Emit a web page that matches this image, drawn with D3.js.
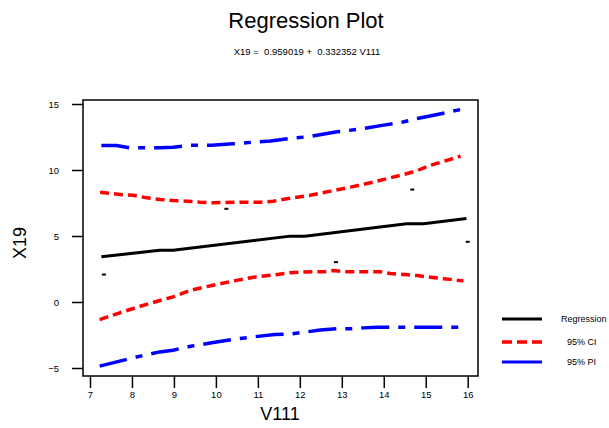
<!DOCTYPE html>
<html>
<head>
<meta charset="utf-8">
<script src="https://cdn.jsdelivr.net/npm/d3@7"></script>
<style>
  body { margin: 0; background: #fff; }
  text { font-family: "Liberation Sans", Arial, sans-serif; }
</style>
</head>
<body>
<div id="chart-area"></div>
<script>
// values
var xTicks = [7, 8, 9, 10, 11, 12, 13, 14, 15, 16];
var yTicks = [-5, 0, 5, 10, 15];

var pointX = [7.33, 10.25, 12.86, 14.68, 16.0];
var pointY = [2.08, 7.06, 3.02, 8.52, 4.56];

var regX = [7.27, 8.66, 8.98, 11.77, 12.12, 14.54, 14.95, 15.97];
var regY = [3.42, 3.92, 3.92, 4.99, 4.99, 5.92, 5.92, 6.33];

var ciUpperX = [7.24, 7.72, 8.03, 8.35, 8.67, 8.99, 9.31, 9.63, 9.94, 10.58, 11.06, 11.37, 11.69, 12.25, 12.73, 13.21, 13.68, 14.16, 14.48, 14.80, 15.11, 15.43, 15.83];
var ciUpperY = [8.32, 8.14, 8.09, 7.89, 7.77, 7.69, 7.64, 7.56, 7.52, 7.56, 7.56, 7.64, 7.82, 8.09, 8.40, 8.70, 9.03, 9.41, 9.66, 9.96, 10.36, 10.65, 11.05];

var ciLowerX = [7.23, 7.71, 8.2, 8.66, 8.98, 9.40, 9.90, 10.40, 10.9, 11.37, 11.77, 12.1, 12.56, 12.8, 13.13, 13.92, 14.16, 14.48, 14.8, 15.11, 15.43, 15.9];
var ciLowerY = [-1.33, -0.82, -0.32, 0.11, 0.39, 0.89, 1.25, 1.58, 1.88, 2.05, 2.22, 2.28, 2.29, 2.38, 2.29, 2.29, 2.16, 2.08, 2.0, 1.88, 1.76, 1.6];

var piUpperX = [7.27, 7.63, 7.95, 8.66, 8.98, 9.40, 9.90, 10.40, 10.9, 11.30, 11.77, 12.25, 12.89, 13.52, 14.0, 14.48, 14.8, 15.19, 15.83];
var piUpperY = [11.86, 11.86, 11.68, 11.68, 11.73, 11.88, 11.88, 11.98, 12.11, 12.2, 12.39, 12.54, 12.89, 13.14, 13.4, 13.65, 13.9, 14.15, 14.58];

var piLowerX = [7.23, 7.71, 8.2, 8.66, 8.98, 9.40, 9.90, 10.40, 10.9, 11.4, 11.77, 12.09, 12.49, 12.89, 13.21, 13.52, 13.84, 15.83];
var piLowerY = [-4.86, -4.48, -4.1, -3.78, -3.65, -3.35, -3.09, -2.84, -2.64, -2.46, -2.43, -2.29, -2.13, -2.03, -2.03, -1.96, -1.91, -1.91];

var legendNames = ["Regression", "95% CI", "95% PI"];

var width = 609, height = 428;
var frame = { left: 83, right: 478, top: 100, bottom: 376 };

var svg = d3.select("#chart-area")
    .append("svg")
    .attr("width", width)
    .attr("height", height);

var x = d3.scaleLinear().domain([7, 16]).range([90, 467.7]);
var y = d3.scaleLinear().domain([-5, 15]).range([368, 104]);

// titles
svg.append("text")
    .attr("x", 306).attr("y", 28)
    .attr("text-anchor", "middle")
    .attr("font-size", "22px")
    .text("Regression Plot");

svg.append("text")
    .attr("x", 307).attr("y", 55)
    .attr("text-anchor", "middle")
    .attr("font-size", "9.5px")
    .attr("xml:space", "preserve")
    .text("X19 =  0.959019 +  0.332352 V111");

// frame
svg.append("rect")
    .attr("x", frame.left).attr("y", frame.top)
    .attr("width", frame.right - frame.left)
    .attr("height", frame.bottom - frame.top)
    .attr("fill", "none")
    .attr("stroke", "#000")
    .attr("stroke-width", 1.5);

// axes
var xAxisGroup = svg.append("g")
    .attr("transform", `translate(0, ${frame.bottom})`)
    .call(d3.axisBottom(x).tickValues(xTicks).tickSize(12).tickPadding(3).tickSizeOuter(0));
xAxisGroup.select(".domain").remove();
xAxisGroup.selectAll("line").attr("stroke-width", 1.5);
xAxisGroup.selectAll("text").attr("font-size", "9.5px").attr("fill", "#000");

var yAxisGroup = svg.append("g")
    .attr("transform", `translate(${frame.left}, 0)`)
    .call(d3.axisLeft(y).tickValues(yTicks).tickSize(11).tickPadding(13).tickSizeOuter(0));
yAxisGroup.select(".domain").remove();
yAxisGroup.selectAll("line").attr("stroke-width", 1.5);
yAxisGroup.selectAll("text").attr("font-size", "9.5px").attr("fill", "#000");

svg.append("text")
    .attr("x", 280).attr("y", 420)
    .attr("text-anchor", "middle")
    .attr("font-size", "18px")
    .text("V111");

svg.append("text")
    .attr("transform", "rotate(-90)")
    .attr("x", -243).attr("y", 26)
    .attr("text-anchor", "middle")
    .attr("font-size", "18px")
    .text("X19");

// lines
var line = d3.line()
    .x(d => x(d[0]))
    .y(d => y(d[1]));

function pairs(xs, ys) {
    return xs.map((v, i) => [v, ys[i]]);
}

var plot = svg.append("g");

plot.append("path")
    .datum(pairs(piUpperX, piUpperY))
    .attr("d", line).attr("fill", "none")
    .attr("stroke", "#0000ff").attr("stroke-width", 3.5)
    .attr("stroke-dasharray", "28,9,7,9");

plot.append("path")
    .datum(pairs(piLowerX, piLowerY))
    .attr("d", line).attr("fill", "none")
    .attr("stroke", "#0000ff").attr("stroke-width", 3.5)
    .attr("stroke-dasharray", "28,9,7,9");

plot.append("path")
    .datum(pairs(ciUpperX, ciUpperY))
    .attr("d", line).attr("fill", "none")
    .attr("stroke", "#ff0000").attr("stroke-width", 3.5)
    .attr("stroke-dasharray", "9,5");

plot.append("path")
    .datum(pairs(ciLowerX, ciLowerY))
    .attr("d", line).attr("fill", "none")
    .attr("stroke", "#ff0000").attr("stroke-width", 3.5)
    .attr("stroke-dasharray", "9,5");

plot.append("path")
    .datum(pairs(regX, regY))
    .attr("d", line).attr("fill", "none")
    .attr("stroke", "#000").attr("stroke-width", 3);

// points (small dashes)
plot.selectAll(".pt")
    .data(pairs(pointX, pointY))
    .enter()
    .append("rect")
    .attr("class", "pt")
    .attr("x", d => x(d[0]) - 2)
    .attr("y", d => y(d[1]) - 1)
    .attr("width", 4)
    .attr("height", 2)
    .attr("fill", "#000");

// legend
var legendStyles = [
    { color: "#000", dash: null, width: 3 },
    { color: "#ff0000", dash: "10,5", width: 3.5 },
    { color: "#0000ff", dash: null, width: 3 }
];
var legendY = [319, 342, 362];

var legend = svg.append("g");
legendNames.forEach((name, i) => {
    legend.append("line")
        .attr("x1", 502).attr("x2", 542)
        .attr("y1", legendY[i]).attr("y2", legendY[i])
        .attr("stroke", legendStyles[i].color)
        .attr("stroke-width", legendStyles[i].width)
        .attr("stroke-dasharray", legendStyles[i].dash);
    legend.append("text")
        .attr("x", i === 0 ? 561 : 567)
        .attr("y", legendY[i] + 3)
        .attr("font-size", "9px")
        .text(name);
});
</script>
</body>
</html>
